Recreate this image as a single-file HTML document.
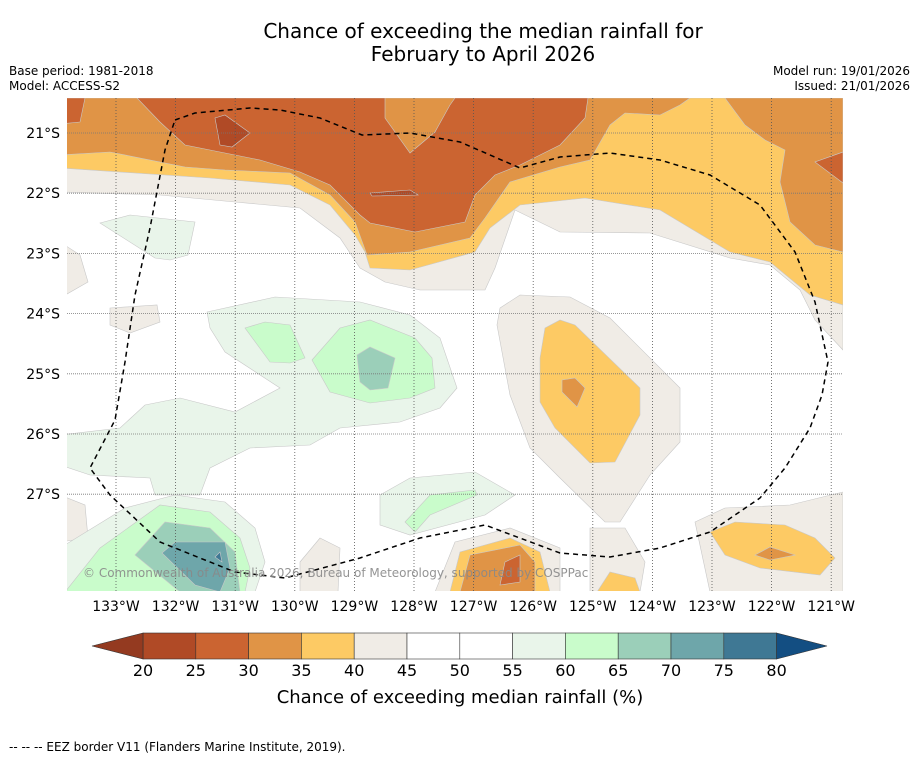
<!DOCTYPE html>
<html><head><meta charset="utf-8">
<style>
html,body{margin:0;padding:0;background:#fff;}
body{width:919px;height:758px;overflow:hidden;font-family:"DejaVu Sans","Liberation Sans",sans-serif;}
svg{font-family:"DejaVu Sans","Liberation Sans",sans-serif;}
</style></head>
<body>
<svg id="chart" width="919" height="758" viewBox="0 0 919 758" xmlns="http://www.w3.org/2000/svg">
<text x="483" y="38" text-anchor="middle" font-size="20">Chance of exceeding the median rainfall for</text>
<text x="483" y="61" text-anchor="middle" font-size="20">February to April 2026</text>
<text x="9" y="75" font-size="12">Base period: 1981-2018</text>
<text x="9" y="90" font-size="12">Model: ACCESS-S2</text>
<text x="910" y="75" font-size="12" text-anchor="end">Model run: 19/01/2026</text>
<text x="910" y="90" font-size="12" text-anchor="end">Issued: 21/01/2026</text>
<defs><clipPath id="mapclip"><rect x="67" y="98" width="776" height="493"/></clipPath></defs>
<g id="map" clip-path="url(#mapclip)"></g>
<g id="grid"></g>
<path id="eez" fill="none" stroke="#000" stroke-width="1.5" stroke-dasharray="5,4" d=""/>
<text x="83" y="577" font-size="12" fill="#888" fill-opacity="0.9">© Commonwealth of Australia 2026, Bureau of Meteorology, supported by COSPPac</text>
<g id="axes" font-size="14"></g>
<g id="cbar"></g>
<text x="460" y="703" text-anchor="middle" font-size="18">Chance of exceeding median rainfall (%)</text>
<text x="9" y="751" font-size="12">--  --  -- EEZ border V11 (Flanders Marine Institute, 2019).</text>
</svg>
<script>
const levels=[20,25,30,35,40,45,50,55,60,65,70,75,80];
const levelColors=["#b04a26","#cb6431","#e09446","#fdca64","#f0ece6","#ffffff","#ffffff","#e9f5ea","#c9fccb","#9bcfb9","#6ea6aa","#3f7894"];
const underColor="#943a20", overColor="#134e82";
const lonTicks=[133,132,131,130,129,128,127,126,125,124,123,122,121];
const latTicks=[21,22,23,24,25,26,27];
const C={beige:"#f0ece6",yel:"#fdca64",lo:"#e09446",dk:"#cb6431",dd:"#b04a26",lg:"#e9f5ea",mint:"#c9fccb",t1:"#9bcfb9",t2:"#6ea6aa",t3:"#3f7894",w:"#ffffff"};
function xLon(l){return 116+(133-l)*59.6;}
function yLat(l){return 133+(l-21)*60.2;}
const NS="http://www.w3.org/2000/svg";
function poly(parent,pts,fill,name){const p=document.createElementNS(NS,"polygon");
p.setAttribute("points",pts);p.setAttribute("fill",fill);p.setAttribute("stroke","#c8c8c8");p.setAttribute("stroke-width","0.6");


parent.appendChild(p);}
const map=document.getElementById("map");
const shapes=[
["60,98 843,98 843,350 815,320 800,290 770,265 730,258 650,233 560,232 515,210 495,268 485,290 420,290 385,282 360,268 340,238 300,208 235,202 160,195 60,192",C.beige,"region-40-45-north"],
["60,98 843,98 843,305 810,295 770,262 730,252 660,210 585,198 520,205 490,228 475,252 410,270 370,268 365,252 355,235 330,205 290,185 210,178 60,168",C.yel,"region-35-40-north"],
["60,98 690,98 680,105 660,115 625,113 610,125 590,160 560,167 510,182 485,218 470,238 410,252 367,255 355,222 330,195 290,173 225,170 185,167 110,152 60,155",C.lo,"region-30-35-north"],
["725,98 843,98 843,252 815,245 790,222 780,182 785,150 765,140 745,125",C.lo,"region-30-35-northeast"],
["137,98 385,98 385,118 410,153 435,132 450,105 455,98 588,98 585,118 560,145 520,165 495,175 475,195 465,222 415,232 370,223 360,215 330,185 300,172 260,160 185,145 160,122",C.dk,"region-25-30-north"],
["60,98 85,98 80,122 60,124",C.dk,"region-25-30-corner"],
["843,152 843,183 815,162",C.dk,"region-25-30-east"],
["215,118 225,115 250,133 232,147 220,145",C.dd,"region-20-25-a"],
["370,193 410,190 418,195 372,196",C.dd,"region-20-25-b"],
["500,308 520,295 570,297 610,318 680,388 680,442 650,475 620,522 605,522 560,478 530,448 510,395 497,325",C.beige,"region-40-45-central"],
["545,328 560,320 575,325 640,388 640,415 615,462 590,463 555,428 540,402 540,358",C.yel,"region-35-40-central"],
["562,380 575,378 585,388 577,407 562,392",C.lo,"region-30-35-central"],
["207,312 275,297 360,302 410,315 440,338 457,388 440,408 400,422 340,428 310,445 250,448 210,468 200,495 155,495 150,478 90,475 60,465 60,435 120,428 145,405 180,398 235,412 280,388 225,352 210,328",C.lg,"region-55-60-central"],
["245,328 265,322 290,325 305,358 290,363 270,362",C.mint,"region-60-65-a"],
["312,360 340,328 370,320 415,338 432,358 435,388 410,398 370,403 330,392",C.mint,"region-60-65-b"],
["357,355 370,347 395,358 388,388 370,390 360,382",C.t1,"region-65-70-central"],
["100,223 130,215 195,222 188,255 170,260 155,258",C.lg,"region-55-60-northwest"],
["110,308 157,305 160,322 130,333 110,325",C.beige,"region-40-45-west"],
["60,242 80,255 88,282 60,298",C.beige,"region-40-45-west-edge"],
["60,495 85,505 88,538 60,542",C.beige,"region-40-45-southwest"],
["60,548 125,508 175,495 225,502 255,528 265,562 255,592 60,592",C.lg,"region-55-60-southwest"],
["65,592 100,548 160,505 210,512 240,538 250,568 245,592",C.mint,"region-60-65-southwest"],
["135,555 165,522 210,528 235,552 240,592 180,592",C.t1,"region-65-70-southwest"],
["162,553 175,542 225,542 230,568 220,592 195,585",C.t2,"region-70-75-southwest"],
["215,557 220,552 222,562",C.t3,"region-75-80-southwest"],
["380,495 410,478 475,472 515,495 485,515 410,535 380,525",C.lg,"region-55-60-south"],
["405,522 430,495 475,490 477,495 430,515 415,532",C.mint,"region-60-65-south"],
["300,562 320,538 340,548 338,592 300,592",C.beige,"region-40-45-south-a"],
["435,592 455,542 510,528 560,548 560,592",C.beige,"region-40-45-south-b"],
["450,592 460,552 510,538 540,552 550,592",C.yel,"region-35-40-south"],
["460,592 470,555 520,545 535,562 535,592",C.lo,"region-30-35-south"],
["505,562 520,555 520,582 500,585",C.dk,"region-25-30-south"],
["590,528 625,528 645,562 640,592 590,592",C.beige,"region-40-45-south-c"],
["597,592 610,572 635,578 640,592",C.yel,"region-35-40-south-c"],
["695,522 725,508 790,505 843,492 843,592 710,592",C.beige,"region-40-45-southeast"],
["710,532 735,522 785,525 815,538 835,558 820,575 760,568 725,555",C.yel,"region-35-40-southeast"],
["755,555 770,547 795,555 770,560",C.lo,"region-30-35-southeast"]
];
shapes.forEach(s=>poly(map,s[0],s[1],s[2]));
const grid=document.getElementById("grid");
lonTicks.forEach(l=>{const ln=document.createElementNS(NS,"line");const x=xLon(l);
ln.setAttribute("x1",x);ln.setAttribute("x2",x);ln.setAttribute("y1",98);ln.setAttribute("y2",591);
ln.setAttribute("stroke","#555");ln.setAttribute("stroke-width","0.8");ln.setAttribute("stroke-dasharray","1,2");


grid.appendChild(ln);});
latTicks.forEach(l=>{const ln=document.createElementNS(NS,"line");const y=yLat(l);
ln.setAttribute("x1",67);ln.setAttribute("x2",843);ln.setAttribute("y1",y);ln.setAttribute("y2",y);
ln.setAttribute("stroke","#777");ln.setAttribute("stroke-width","0.8");ln.setAttribute("stroke-dasharray","1,1");


grid.appendChild(ln);});
const eezPts=[[175,120],[195,113],[250,108],[280,110],[320,118],[362,135],[410,133],[460,142],[520,168],[560,157],[610,153],[660,160],[710,175],[760,205],[795,252],[815,302],[828,362],[822,395],[810,428],[785,468],[760,498],[710,532],[660,548],[610,557],[560,553],[485,525],[420,538],[360,558],[285,578],[235,572],[160,542],[110,495],[90,468],[115,420],[125,362],[135,295],[150,228],[165,150],[175,120]];
document.getElementById("eez").setAttribute("d","M"+eezPts.map(p=>p.join(",")).join(" L"));
const axes=document.getElementById("axes");
lonTicks.forEach(l=>{const t=document.createElementNS(NS,"text");t.setAttribute("x",xLon(l));t.setAttribute("y",611);
t.setAttribute("text-anchor","middle");t.textContent=l+"°W";


axes.appendChild(t);});
latTicks.forEach(l=>{const t=document.createElementNS(NS,"text");t.setAttribute("x",60);t.setAttribute("y",yLat(l)+5);
t.setAttribute("text-anchor","end");t.textContent=l+"°S";


axes.appendChild(t);});
const cb=document.getElementById("cbar");
const cx0=143,cw=52.8,cy=633,ch=26;
function cbX(v){return cx0+(v-levels[0])/5*cw;}
for(let i=0;i<levels.length-1;i++){const r=document.createElementNS(NS,"rect");
r.setAttribute("x",cbX(levels[i]));r.setAttribute("y",cy);r.setAttribute("width",cw);r.setAttribute("height",ch);
r.setAttribute("fill",levelColors[i]);r.setAttribute("stroke","#333");r.setAttribute("stroke-width","0.6");


cb.appendChild(r);}
const lt=document.createElementNS(NS,"polygon");lt.setAttribute("points",`${cbX(levels[0])},${cy} 92,${cy+ch/2} ${cbX(levels[0])},${cy+ch}`);
lt.setAttribute("fill",underColor);lt.setAttribute("stroke","#333");lt.setAttribute("stroke-width","0.6");


cb.appendChild(lt);
const rtA=document.createElementNS(NS,"polygon");const xe=cbX(levels[levels.length-1]);
rtA.setAttribute("points",`${xe},${cy} 827,${cy+ch/2} ${xe},${cy+ch}`);
rtA.setAttribute("fill",overColor);rtA.setAttribute("stroke","#333");rtA.setAttribute("stroke-width","0.6");


cb.appendChild(rtA);
levels.forEach(v=>{const t=document.createElementNS(NS,"text");t.setAttribute("x",cbX(v));t.setAttribute("y",676);
t.setAttribute("text-anchor","middle");t.setAttribute("font-size","16");t.textContent=v;


cb.appendChild(t);});
</script>
</body></html>
